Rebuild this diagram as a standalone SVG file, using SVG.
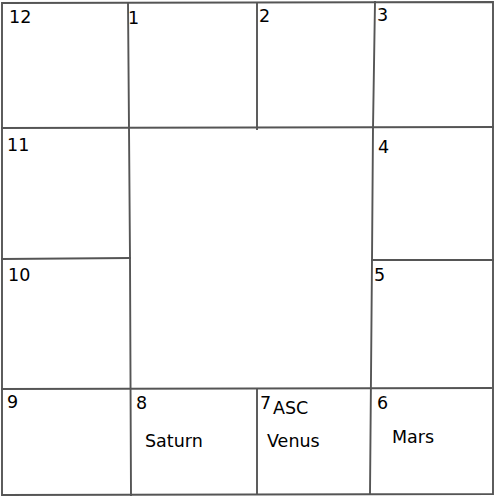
<svg xmlns="http://www.w3.org/2000/svg" width="500" height="500" viewBox="0 0 500 500">
<style>
.ln{stroke:#555;stroke-width:1.9;fill:none;stroke-linecap:square}
text{font-family:"DejaVu Sans",sans-serif;font-size:17.5px;fill:#000}
</style>
<rect width="500" height="500" fill="#fff"/>
<g id="grid">
<path class="ln" d="M2,3 L493,2 L493,494 L2,495 Z"/>
<path class="ln" d="M2,128 L493,127"/>
<path class="ln" d="M2,389 L491,388"/>
<path class="ln" d="M128,3 L129,128 L130,259 L131,495"/>
<path class="ln" d="M257,3 L257,129"/>
<path class="ln" d="M375,2 L373,128 L372,260 L370,494"/>
<path class="ln" d="M2,259 L130,258"/>
<path class="ln" d="M372,260 L493,260"/>
<path class="ln" d="M257,389 L257,494"/>
</g>
<g id="house12"><text x="9" y="23">12</text></g>
<g id="house1"><text x="128" y="24">1</text></g>
<g id="house2"><text x="259" y="22">2</text></g>
<g id="house3"><text x="377" y="21">3</text></g>
<g id="house11"><text x="7" y="151">11</text></g>
<g id="house4"><text x="378" y="153">4</text></g>
<g id="house10"><text x="8" y="281">10</text></g>
<g id="house5"><text x="374" y="281">5</text></g>
<g id="house9"><text x="7" y="408">9</text></g>
<g id="house8"><text x="136" y="409">8</text><text x="145" y="447">Saturn</text></g>
<g id="house7"><text x="260" y="409">7</text><text x="273" y="414">ASC</text><text x="267" y="447">Venus</text></g>
<g id="house6"><text x="377" y="409">6</text><text x="392" y="443">Mars</text></g>
</svg>
